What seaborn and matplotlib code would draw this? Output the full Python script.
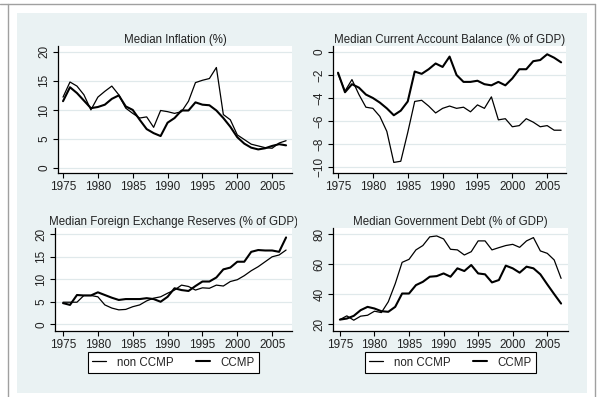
import numpy as np
import pandas as pd
import seaborn as sns
import matplotlib
matplotlib.use("Agg")
import matplotlib.pyplot as plt
from matplotlib.patches import Rectangle
from matplotlib.lines import Line2D
from matplotlib.transforms import Bbox

years = list(range(1975, 2008))

# values
infl_non = [12.2, 14.8, 14.1, 12.6, 10.0, 12.2, 13.2, 14.1, 12.6, 10.3, 9.4, 8.6, 8.8, 7.0, 9.9,
            9.7, 9.4, 9.7, 11.5, 14.7, 15.1, 15.4, 17.3, 9.2, 8.3, 5.7, 4.9, 4.1, 3.8, 3.5, 3.4, 4.3, 4.7]
infl_ccmp = [11.5, 13.9, 12.9, 11.6, 10.3, 10.5, 10.9, 11.9, 12.5, 10.6, 10.0, 8.3, 6.7, 6.0, 5.5,
             7.8, 8.6, 9.9, 9.9, 11.3, 10.9, 10.8, 9.9, 8.6, 7.1, 5.3, 4.2, 3.5, 3.2, 3.4, 3.8, 4.1, 3.9]

ca_non = [-1.9, -3.4, -2.4, -3.7, -4.8, -4.9, -5.6, -6.9, -9.6, -9.5, -7.0, -4.3, -4.2, -4.7, -5.3,
          -4.9, -4.7, -4.9, -4.8, -5.2, -4.6, -4.9, -3.9, -5.9, -5.8, -6.5, -6.4, -5.8, -6.1, -6.5,
          -6.4, -6.8, -6.8]
ca_ccmp = [-1.8, -3.5, -2.8, -3.1, -3.7, -4.0, -4.4, -4.9, -5.5, -5.1, -4.3, -1.7, -1.9, -1.5, -1.0,
           -1.3, -0.4, -2.0, -2.6, -2.6, -2.5, -2.8, -2.9, -2.6, -2.9, -2.3, -1.5, -1.5, -0.8, -0.7,
           -0.2, -0.5, -0.9]

fx_non = [4.9, 4.9, 4.9, 6.4, 6.4, 6.1, 4.3, 3.6, 3.2, 3.3, 3.9, 4.3, 5.2, 5.8, 6.1, 6.9, 7.6,
          8.7, 8.4, 7.6, 8.1, 8.0, 8.7, 8.5, 9.5, 9.9, 10.8, 11.9, 12.8, 13.9, 15.0, 15.4, 16.5]
fx_ccmp = [4.7, 4.3, 6.5, 6.4, 6.4, 7.1, 6.5, 5.9, 5.4, 5.6, 5.6, 5.6, 5.8, 5.6, 5.0, 6.1, 8.0,
           7.6, 7.4, 8.5, 9.5, 9.5, 10.4, 12.2, 12.6, 13.9, 13.9, 16.1, 16.5, 16.4, 16.4, 16.1, 19.3]

debt_non = [23.1, 25.6, 22.7, 25.4, 26.0, 28.7, 27.8, 35.0, 47.0, 61.3, 63.3, 69.6, 72.5, 78.3, 78.9,
            76.9, 70.0, 69.6, 66.2, 68.4, 75.6, 75.6, 69.6, 71.1, 72.5, 73.3, 71.3, 75.6, 77.8, 68.9,
            67.3, 62.9, 50.6]
debt_ccmp = [23.1, 23.8, 25.6, 29.4, 31.6, 30.5, 28.7, 28.3, 31.6, 40.5, 40.5, 46.1, 48.3, 51.7, 52.1,
             53.9, 51.7, 57.3, 55.5, 59.5, 53.9, 53.3, 47.9, 49.5, 59.1, 57.3, 54.4, 58.4, 57.3, 53.3,
             46.6, 40.1, 33.8]

groups = ["non CCMP", "CCMP"]
line_w = {"non CCMP": 0.9, "CCMP": 1.5}

sns.set_theme(style="white")
plt.rcParams["font.family"] = ["Liberation Sans", "DejaVu Sans"]

W, H = 600, 397
fig = plt.figure(figsize=(6, 3.97), dpi=100, facecolor="white")

# stata-like graph region, kept behind the axes
fig.patches.append(Rectangle((17 / W, 1 - 393 / H), (587 - 17) / W, (393 - 13) / H,
                             transform=fig.transFigure, facecolor="#eaf2f3", edgecolor="none", zorder=-5))
for xs, ys in [((0, 595), (4, 4)), ((8, 8), (4, 397)), ((595, 595), (4, 397))]:
    fig.add_artist(Line2D([x / W for x in xs], [1 - y / H for y in ys], color="#a0a0a0", lw=1.0, zorder=-4))


def px_axes(x0, x1, y0, y1):
    return fig.add_axes([x0 / W, 1 - y1 / H, (x1 - x0) / W, (y1 - y0) / H])


panels = [
    ("Median Inflation (%)", infl_non, infl_ccmp, (58, 292, 46, 173), (1974.28, 2007.85), (-0.86, 21.0), [0, 5, 10, 15, 20]),
    ("Median Current Account Balance (% of GDP)", ca_non, ca_ccmp, (333, 566, 46, 173), (1974.28, 2007.7), (-10.52, 0.52), [-10, -8, -6, -4, -2, 0]),
    ("Median Foreign Exchange Reserves (% of GDP)", fx_non, fx_ccmp, (55, 292, 228, 331), (1973.85, 2007.85), (-1.5, 21.4), [0, 5, 10, 15, 20]),
    ("Median Government Debt (% of GDP)", debt_non, debt_ccmp, (333, 568, 228, 331), (1974.0, 2008.0), (15.5, 84.2), [20, 40, 60, 80]),
]

for i, (title, non, ccmp, box, xl, yl, yt) in enumerate(panels):
    ax = px_axes(*box)
    ax.set_facecolor("white")
    df = pd.DataFrame({"year": years * 2, "value": non + ccmp,
                       "group": ["non CCMP"] * len(years) + ["CCMP"] * len(years)})
    for g in groups:
        sns.lineplot(data=df[df.group == g], x="year", y="value", color="black",
                     lw=line_w[g], ax=ax, label=g, legend=False)
    ax.set_xlim(*xl)
    ax.set_ylim(*yl)
    ax.set_xticks(range(1975, 2006, 5))
    ax.set_yticks(yt)
    ax.set_xlabel("")
    ax.set_ylabel("")
    for yv in yt:
        ax.axhline(yv, color="#e0e9eb", lw=0.9, zorder=0)
    for s in ["top", "right"]:
        ax.spines[s].set_visible(False)
    for s in ["left", "bottom"]:
        ax.spines[s].set_color("black")
        ax.spines[s].set_linewidth(0.9)
    ax.tick_params(axis="both", which="major", direction="out", length=3.5, width=0.8,
                   color="black", labelsize=8.5, pad=2, bottom=True, left=True, labelcolor="#222222")
    ax.tick_params(axis="y", labelrotation=90)
    for lbl in ax.get_yticklabels():
        lbl.set_va("center")
    t = ax.set_title(title, fontsize=8.3, pad=2.5, color="#222222")
    if i == 2:
        t.set_clip_on(True)
        t.set_clip_box(Bbox.from_extents(0, 0, 297, H))
    if i >= 2:
        cx = (box[0] + box[1]) / 2 / W
        handles = [Line2D([], [], color="black", lw=line_w[g]) for g in groups]
        leg = ax.legend(handles, groups, loc="center", bbox_to_anchor=(cx, 1 - 362.5 / H),
                        bbox_transform=fig.transFigure, ncol=2, fontsize=8.3, frameon=True,
                        fancybox=False, edgecolor="black", facecolor="white", framealpha=1,
                        borderpad=0.35, handlelength=1.2, handletextpad=0.9, columnspacing=2.0)
        leg.get_frame().set_linewidth(0.8)
        for txt in leg.get_texts():
            txt.set_color("#222222")

fig.savefig("out.png", dpi=100, facecolor="white")
